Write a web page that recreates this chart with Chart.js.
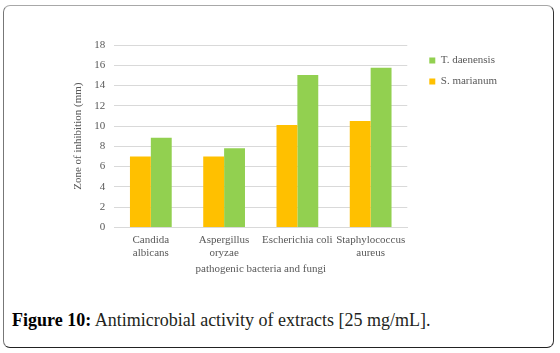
<!DOCTYPE html>
<html>
<head>
<meta charset="utf-8">
<script src="https://cdn.jsdelivr.net/npm/chart.js@4.4.0/dist/chart.umd.min.js"></script>
<style>
  html, body { margin: 0; padding: 0; background: #fff; }
  #frame {
    position: absolute; left: 3px; top: 5px; width: 549px; height: 341px;
    border: 1.5px solid; border-color: #a8a8a8 #333 #222 #777;
    border-radius: 7px;
  }
  #wrap { position: absolute; left: 0; top: 0; width: 560px; height: 290px; }
  #caption {
    position: absolute; left: 12px; top: 310px;
    font-family: 'Liberation Serif', serif; font-size: 18px; color: #231f20;
    white-space: nowrap;
  }
  #caption b { color: #000; }
</style>
</head>
<body>
<div id="frame"></div>
<div id="wrap"><canvas id="chart" width="560" height="290"></canvas></div>
<div id="caption"><b>Figure 10:</b> Antimicrobial activity of extracts [25 mg/mL].</div>
<script>
// categories and measured zones of inhibition (mm)
const categories = [
    ['Candida', 'albicans'],
    ['Aspergillus', 'oryzae'],
    'Escherichia coli',
    ['Staphylococcus', 'aureus']
];
const marianum = [7.0, 7.0, 10.1, 10.5];
const daenensis = [8.85, 7.8, 15.05, 15.75];

const SERIF = "'Liberation Serif', 'Times New Roman', serif";
const TEXT_GREY = '#595959';

// push the legend a bit away from the plot, like the original
const legendGap = {
    id: 'legendGap',
    afterLayout(chart) {
        if (chart.legend) {
            chart.legend.left += 12;
            chart.legend.right += 12;
        }
    }
};

new Chart(document.getElementById('chart'), {
    type: 'bar',
    data: {
        labels: categories,
        datasets: [
            {
                label: 'S. marianum',
                data: marianum,
                backgroundColor: '#FFC000'
            },
            {
                label: 'T. daenensis',
                data: daenensis,
                backgroundColor: '#92D050'
            }
        ]
    },
    options: {
        responsive: false,
        animation: false,
        layout: { padding: { left: 72, right: 65, top: 45, bottom: 14 } },
        datasets: {
            bar: { categoryPercentage: 0.57, barPercentage: 1.0 }
        },
        plugins: {
            legend: {
                position: 'right',
                align: 'start',
                reverse: true,
                labels: {
                    boxWidth: 6,
                    boxHeight: 6,
                    padding: 10,
                    color: TEXT_GREY,
                    font: { family: SERIF, size: 11 }
                }
            },
            tooltip: { enabled: false }
        },
        scales: {
            y: {
                min: 0,
                max: 18,
                ticks: {
                    stepSize: 2,
                    padding: 9,
                    color: TEXT_GREY,
                    font: { family: SERIF, size: 11 }
                },
                grid: { color: '#d9d9d9', drawTicks: false },
                border: { display: false },
                title: {
                    display: true,
                    text: 'Zone of inhibition (mm)',
                    color: TEXT_GREY,
                    font: { family: SERIF, size: 11 },
                    padding: { top: 0, bottom: 0 }
                }
            },
            x: {
                ticks: {
                    padding: 6,
                    maxRotation: 0,
                    autoSkip: false,
                    color: TEXT_GREY,
                    font: { family: SERIF, size: 11 }
                },
                grid: { display: false, drawTicks: false },
                border: { color: '#d9d9d9' },
                title: {
                    display: true,
                    text: 'pathogenic bacteria and fungi',
                    color: TEXT_GREY,
                    font: { family: SERIF, size: 11 },
                    padding: { top: -3, bottom: 0 }
                }
            }
        }
    },
    plugins: [legendGap]
});
</script>
</body>
</html>
